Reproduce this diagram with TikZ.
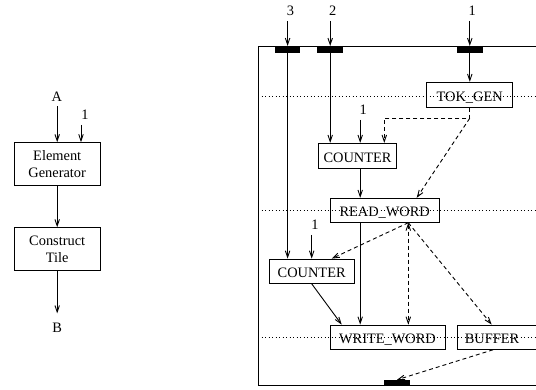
\documentclass[tikz,border=0pt]{standalone}
\usepackage{fontspec}
\setmainfont{Liberation Serif}
\usetikzlibrary{arrows.meta}
\begin{document}
\begin{tikzpicture}[x=1pt,y=-1pt,
  >={Straight Barb[length=6.5pt,width=4.5pt]},
  every node/.style={font=\fontsize{14.4}{17.3}\selectfont, inner sep=0pt},
  box/.style={draw, line width=0.9pt, minimum height=24.5pt},
  sbox/.style={box, text height=12.5pt, text depth=0pt},
  lbl/.style={inner sep=0pt, outer sep=5pt},
  bar/.style={fill=black, minimum width=25.5pt, minimum height=6.5pt},
  wire/.style={line width=0.9pt, ->},
  dwire/.style={line width=0.9pt, dash pattern=on 4pt off 3pt, ->},
  plain/.style={line width=0.9pt},
  level/.style={line width=0.8pt, dash pattern=on 0.9pt off 2.6pt}
]
\useasboundingbox (0,0) rectangle (536,390);

% ---------------- left diagram ----------------
\node[box, minimum width=85.7pt, minimum height=43.3pt, align=center] (eg) at (57.2,164.3) {Element\\Generator};
\node[box, minimum width=85.7pt, minimum height=43pt, align=center] (ct) at (57.2,249.2) {Construct\\Tile};
\node[lbl] (A) at (56.8,96.7) {A};
\node[lbl] (oneL) at (85,115) {1};
\node[inner sep=0pt, outer sep=9.7pt] (B) at (57.2,327.8) {B};
\coordinate (xL) at (81,0);
\draw[wire] (A.south -| eg.north) -- (eg.north);
\draw[wire] (oneL.south -| xL) -- (eg.north -| xL);
\draw[wire] (eg.south) -- (ct.north);
\draw[wire] (ct.south) -- (ct.south |- B.north);

% ---------------- right diagram ----------------
% frame
\draw[plain] (536,46) -- (258,46) -- (258,385) -- (536,385);

% bars
\node[bar] (b3) at (287.6,49.4) {};
\node[bar] (b2) at (330.2,49.4) {};
\node[bar] (b1) at (469.8,49.4) {};
\node[bar, minimum width=26pt, minimum height=5pt] (bb) at (397,382.5) {};

% boxes
\node[sbox, minimum width=86pt, minimum height=25pt] (tok) at (469.7,94.8) {TOK\_GEN};
\node[sbox, minimum width=78.4pt, minimum height=25pt] (cntA) at (357.5,155.8) {COUNTER};
\node[sbox, minimum width=109.3pt, minimum height=24pt] (rw) at (384.7,210.3) {READ\_WORD};
\node[sbox, minimum width=84.7pt, minimum height=24.3pt] (cntB) at (311.7,271.2) {COUNTER};
\node[sbox, minimum width=115pt, minimum height=24.3pt] (ww) at (387.5,337.2) {WRITE\_WORD};
\node[sbox, anchor=west, text width=76pt, align=left, inner xsep=7pt, minimum height=24.3pt] (buf) at (457.3,337.2) {BUFFER};

% labels
\node[lbl] (l3) at (290.5,11.2) {3};
\node[lbl] (l2) at (332.7,11.2) {2};
\node[lbl] (l1) at (472.3,11.2) {1};
\node[lbl] (lA) at (363.3,110) {1};
\node[lbl] (lB) at (315,225) {1};

% helper coordinates
\coordinate (xA) at (360.2,0);
\coordinate (xD) at (384.3,0);
\coordinate (xR) at (408.3,0);
\coordinate (xBi) at (491.7,0);
\coordinate (xBo) at (493,0);
\coordinate (j1) at (469.7,118.3);
\coordinate (j2) at (384.3,118.3);

% inputs at the top
\draw[wire] (l3.south -| b3) -- (b3.north);
\draw[wire] (l2.south -| b2) -- (b2.north);
\draw[wire] (l1.south -| b1) -- (b1.north);
\draw[wire] (b3.south) -- (b3.south |- cntB.north);
\draw[wire] (b2.south) -- (b2.south |- cntA.north);
\draw[wire] (b1.south) -- (b1.south |- tok.north);

% solid connectors
\draw[wire] (lA.south -| xA) -- (cntA.north -| xA);
\draw[wire] (cntA.south -| xA) -- (rw.north -| xA);
\draw[wire] (lB.south -| cntB.north) -- (cntB.north);
\draw[wire] (rw.south -| xA) -- (ww.north -| xA);
\draw[wire] (cntB.south) -- ([xshift=-45.8pt]ww.north);

% dashed connectors
\draw[dwire] (tok.south) -- (j1) -- (j2) -- (j2 |- cntA.north);
\draw[dwire] (j1) -- ([xshift=32pt]rw.north);
\draw[dwire] (rw.south -| xR) -- ([xshift=20pt]cntB.north);
\draw[dwire, <->] (rw.south -| xR) -- (ww.north -| xR);
\draw[dwire] (rw.south -| xR) -- (buf.north -| xBi);
\draw[dwire] (buf.south -| xBo) -- (bb.north);

% dotted level lines
\draw[level] (258,96.7) -- (536,96.7);
\draw[level] (258,210.7) -- (536,210.7);
\draw[level] (258,337.3) -- (536,337.3);
\end{tikzpicture}
\end{document}
